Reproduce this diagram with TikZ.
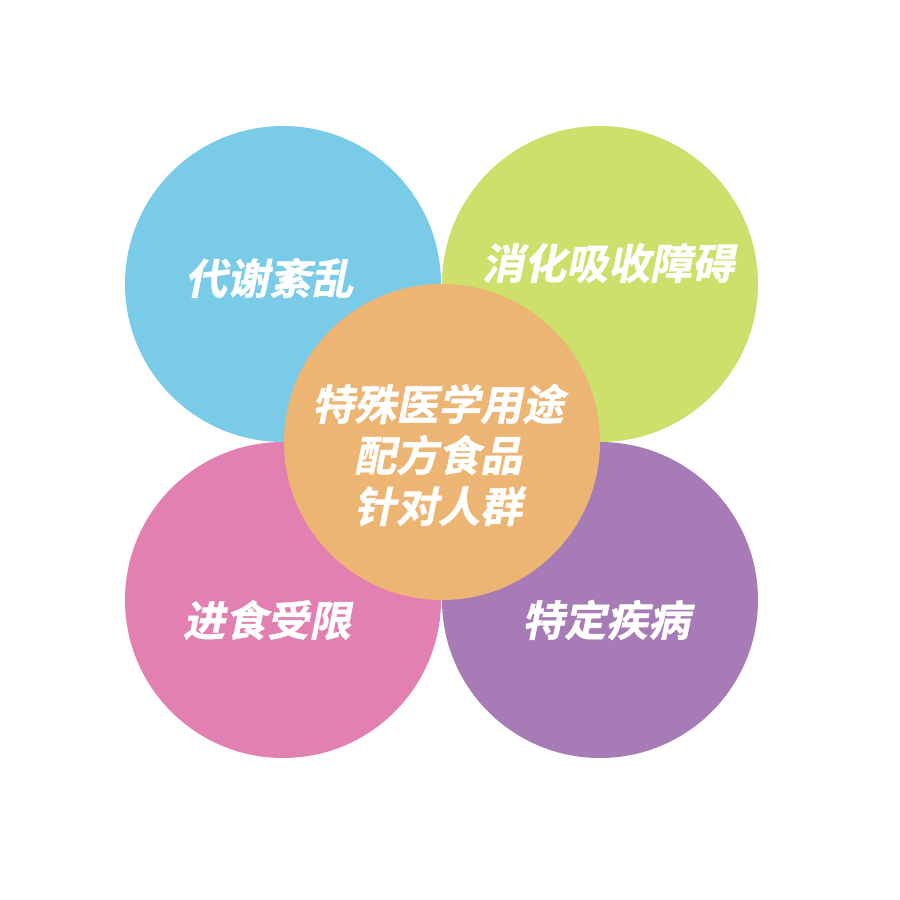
\documentclass[tikz,border=0pt]{standalone}
\usepackage{fontspec}
\newfontfamily\cjk[FakeSlant=0.2,FakeBold=1]{Noto Sans CJK SC Bold}
\definecolor{cblue}{HTML}{7ACBE8}
\definecolor{cgreen}{HTML}{CEE06C}
\definecolor{cpink}{HTML}{E380B2}
\definecolor{cpurple}{HTML}{A77BB6}
\definecolor{corange}{HTML}{ECB573}
\tikzset{
  disc/.style={circle, minimum size=316pt, inner sep=0pt, draw=none},
  lbl/.style={text=white, font=\cjk\fontsize{42}{51}\selectfont, inner sep=0pt, align=center},
}
\begin{document}
\begin{tikzpicture}[x=1pt,y=-1pt]
\useasboundingbox (0,0) rectangle (900,900);
\fill[white] (0,0) rectangle (900,900);
\node[disc, fill=cblue] (tl) at (283,284) {};
\node[disc, fill=cgreen] (tr) at (600,284) {};
\node[disc, fill=cpink] (bl) at (283,600) {};
\node[disc, fill=cpurple] (br) at (600,600) {};
\node[disc, fill=corange] (c) at (442,442) {};
\node[lbl] (ltl) at (269,278) {代谢紊乱};
\node[lbl] (ltr) at (608,263) {消化吸收障碍};
\node[lbl] (lbl1) at (267,620) {进食受限};
\node[lbl] (lbr) at (606,620) {特定疾病};
\node[lbl] (lc) at (438,455) {特殊医学用途\\配方食品\\针对人群};
\end{tikzpicture}
\end{document}
